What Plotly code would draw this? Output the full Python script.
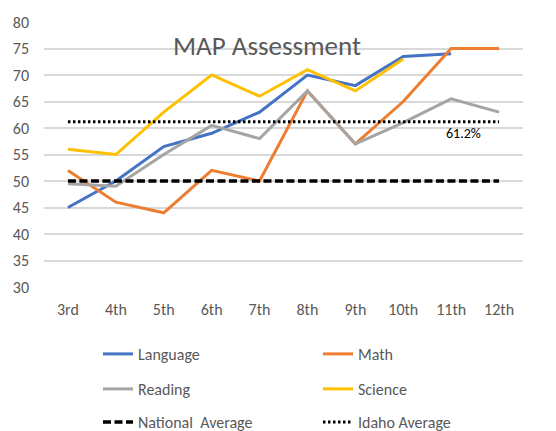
import plotly.graph_objects as go

grades = ["3rd", "4th", "5th", "6th", "7th", "8th", "9th", "10th", "11th", "12th"]
language = [45, 50, 56.5, 59, 63, 70, 68, 73.5, 74, None]
math = [52, 46, 44, 52, 50, 67, 57, 65, 75, 75]
reading = [49.5, 49, 55, 60.5, 58, 67, 57, 61, 65.5, 63]
science = [56, 55, 63, 70, 66, 71, 67, 73, None, None]
national_avg = [50] * 10
idaho_avg = [61.2] * 10
idaho_label = "61.2%"
idaho_label_index = 8
y_ticks = [30, 35, 40, 45, 50, 55, 60, 65, 70, 75, 80]

FONT = "Carlito, Lato, sans-serif"
GREY = "#595959"

# the page body adds an 8px margin, so the figure is sized to fit the window
OFF = 8
W, H = 556 - OFF, 431 - OFF
L, R, T, B = 44 - OFF, 33, 22 - OFF, 144
ph = H - T - B
pw = W - L - R

def ypaper(px):
    return (H - B - (px - OFF)) / ph

def xpaper(px):
    return ((px - OFF) - L) / pw

fig = go.Figure()
series = [
    ("Language", language, "#4472C4", "solid", 3, "legend"),
    ("Math", math, "#ED7D31", "solid", 3, "legend"),
    ("Reading", reading, "#A5A5A5", "solid", 3, "legend2"),
    ("Science", science, "#FFC000", "solid", 3, "legend2"),
    ("National  Average", national_avg, "#000000", "8px,3.5px", 3.5, "legend3"),
    ("Idaho Average", idaho_avg, "#000000", "2.5px,2.5px", 3, "legend3"),
]
for name, vals, col, dash, w, lg in series:
    fig.add_trace(go.Scatter(
        x=grades, y=vals, name=name, mode="lines",
        line=dict(color=col, width=w, dash=dash),
        connectgaps=False, legend=lg,
    ))

fig.add_annotation(
    x=grades[idaho_label_index], y=idaho_avg[idaho_label_index],
    text=idaho_label, showarrow=False, xref="x", yref="y",
    yshift=-12, xshift=12, font=dict(family=FONT, size=14, color="#000000"),
)
fig.add_annotation(
    x=xpaper(267), y=ypaper(45), xref="paper", yref="paper",
    xanchor="center", yanchor="middle",
    text="MAP Assessment", showarrow=False,
    font=dict(family=FONT, size=27, color=GREY),
)

leg_common = dict(
    orientation="h", xanchor="left", yanchor="middle",
    x=xpaper(98), entrywidth=175, entrywidthmode="pixels",
    font=dict(family=FONT, size=16, color=GREY), bgcolor="rgba(0,0,0,0)",
)
fig.update_layout(
    width=W, height=H,
    margin=dict(l=L, r=R, t=T, b=B, autoexpand=False),
    paper_bgcolor="white", plot_bgcolor="white",
    showlegend=True,
    legend=dict(leg_common, y=ypaper(354)),
    legend2=dict(leg_common, y=ypaper(389)),
    legend3=dict(leg_common, y=ypaper(422)),
    xaxis=dict(
        type="category", range=[-0.5, 9.5], showgrid=False,
        showline=False, zeroline=False, ticks="",
        tickfont=dict(family=FONT, size=16, color=GREY),
        ticklabelstandoff=11,
    ),
    yaxis=dict(
        range=[30, 80], tickvals=y_ticks, showgrid=True,
        gridcolor="#D9D9D9", gridwidth=1.5, zeroline=False, showline=False,
        ticks="", tickfont=dict(family=FONT, size=16, color=GREY),
        ticklabelstandoff=14,
    ),
)
fig.write_html("out.html")
